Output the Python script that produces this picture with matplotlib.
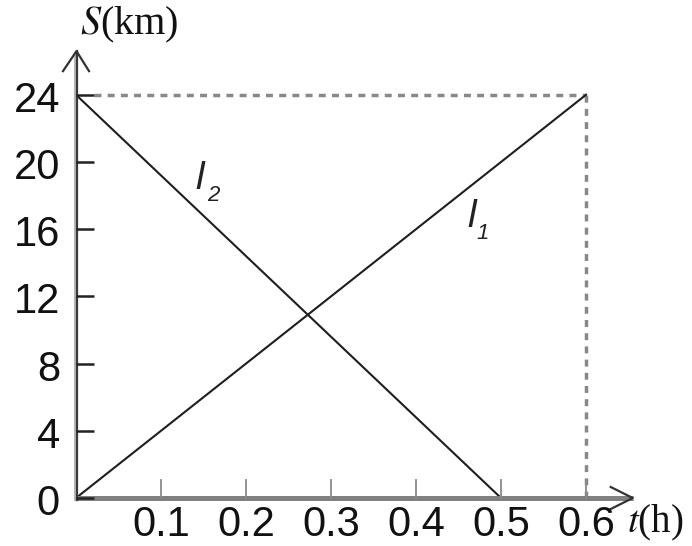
import matplotlib
matplotlib.use("Agg")
import matplotlib.pyplot as plt

plt.rcParams["mathtext.fontset"] = "stix"

# data
t_ticks = [0.1, 0.2, 0.3, 0.4, 0.5, 0.6]
t_tick_labels = ["0.1", "0.2", "0.3", "0.4", "0.5", "0.6"]
s_ticks = [0, 4, 8, 12, 16, 20, 24]
s_tick_labels = ["0", "4", "8", "12", "16", "20", "24"]
l1_t = [0, 0.6]
l1_s = [0, 24]
l2_t = [0, 0.5]
l2_s = [24, 0]

W, H = 692, 546
fig = plt.figure(figsize=(W / 100, H / 100), dpi=100)
x0, y0 = 76, 498
px_t = 850.0   # px per hour
px_s = 16.8    # px per km
xmax, ymax = 0.7, 28
ax = fig.add_axes([x0 / W, (H - y0) / H, xmax * px_t / W, ymax * px_s / H])
ax.set_xlim(0, xmax)
ax.set_ylim(0, ymax)
ax.axis("off")

dt = 1.0 / px_t   # one pixel in t
ds = 1.0 / px_s   # one pixel in s

# dashed guides
ax.plot([18 * dt, 0.6], [24, 24], ls=(0, (2.0, 1.8)), color="#888888", lw=2.5, clip_on=False)
ax.plot([0.6, 0.6], [0, 24], ls=(0, (2.0, 1.8)), color="#888888", lw=2.5, clip_on=False)

# lines
ax.plot(l1_t, l1_s, color="#1e1e1e", lw=1.5, clip_on=False)
ax.plot(l2_t, l2_s, color="#1e1e1e", lw=1.5, clip_on=False)

# x axis
ax.plot([0, 0.655], [0, 0], color="#808080", lw=3.6, solid_capstyle="butt", clip_on=False)
ax.plot([0.655 - 22 * dt, 0.655, 0.655 - 22 * dt], [11 * ds, 0, -11 * ds],
        color="#333333", lw=1.6, clip_on=False)
# y axis (light edge + dark core)
ax.plot([-1.5 * dt, -1.5 * dt], [-2 * ds, 26.5], color="#b8b8b8", lw=1.5, clip_on=False)
ax.plot([0.5 * dt, 0.5 * dt], [-2 * ds, 26.6], color="#3a3a3a", lw=1.6, clip_on=False)
ax.plot([-13 * dt, 0.5 * dt, 13 * dt], [26.6 - 20 * ds, 26.6, 26.6 - 20 * ds],
        color="#333333", lw=1.6, clip_on=False)

# ticks
for t in t_ticks:
    ax.plot([t, t], [0, 18 * ds], color="#8a8a8a", lw=1.3, clip_on=False)
for s in s_ticks:
    ax.plot([0, 18 * dt], [s, s], color="#222222", lw=1.8, solid_capstyle="butt", clip_on=False)

font = dict(family="Liberation Sans", fontsize=30, color="#111111")
for t, lab in zip(t_ticks, t_tick_labels):
    ax.text(t, -47.5 * ds, lab, ha="center", va="bottom", **font)
for s, lab in zip(s_ticks, s_tick_labels):
    ax.text(-16 * dt, s - 17 * ds, lab, ha="right", va="baseline", **font)

# axis labels
ax.text(4 * dt, 26.6 + 17 * ds, r"$S$(km)", ha="left", va="baseline", fontsize=29,
        family="Liberation Serif", color="#111111")
ax.text(0.648, -45 * ds, r"$t$(h)", ha="left", va="bottom", fontsize=28,
        family="Liberation Serif", color="#111111")

# line labels
lab_font = dict(family="Liberation Sans", style="italic", color="#222222",
                ha="center", va="center")
ax.text(0.146, 19.0, "l", fontsize=28, **lab_font)
ax.text(0.162, 18.0, "2", fontsize=16, **lab_font)
ax.text(0.465, 16.7, "l", fontsize=28, **lab_font)
ax.text(0.478, 15.75, "1", fontsize=16, **lab_font)

fig.savefig("out.png", dpi=100, facecolor="white")
